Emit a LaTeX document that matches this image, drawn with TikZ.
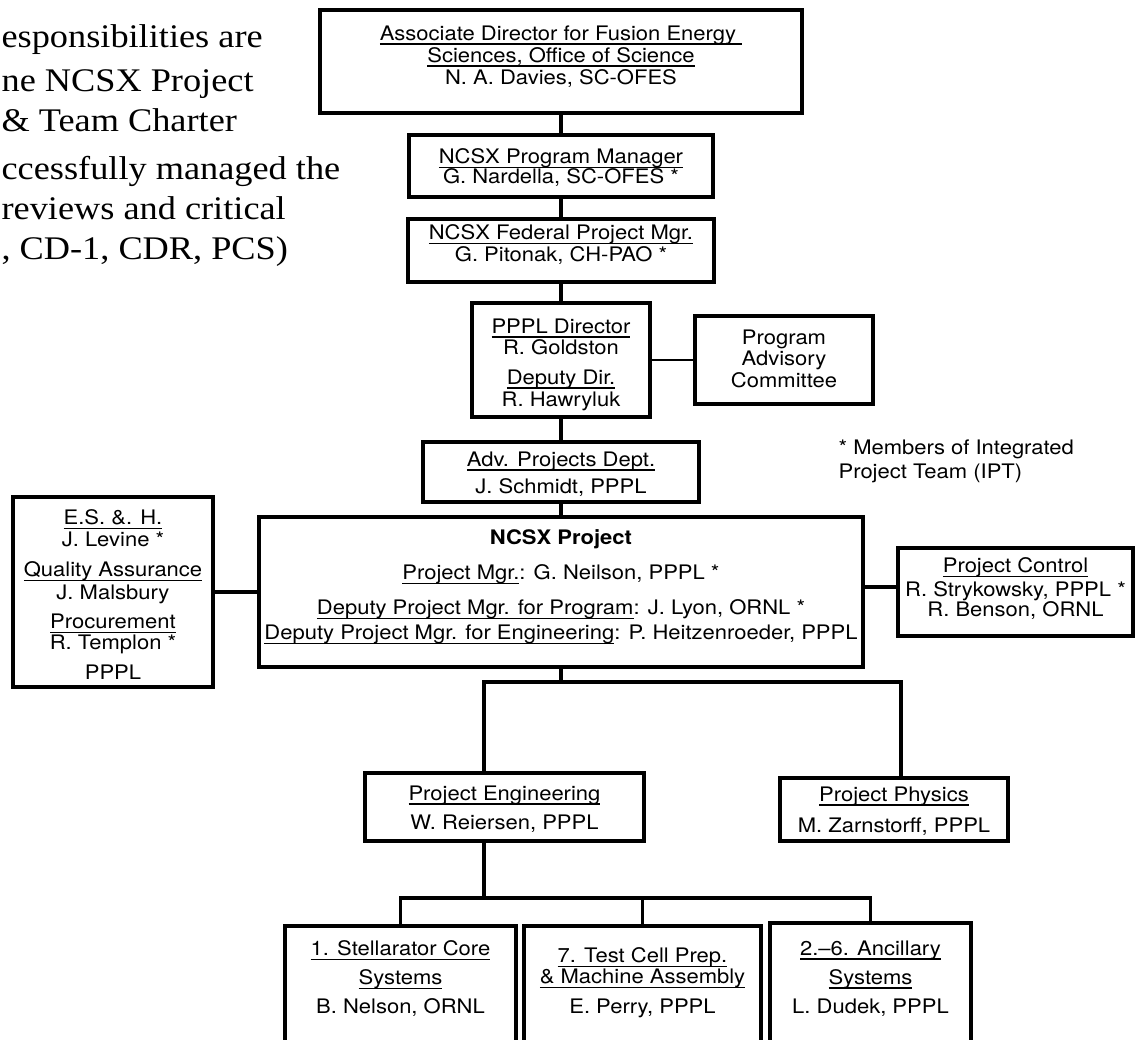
\documentclass[tikz,border=0pt]{standalone}
\usepackage{fontspec}
\setmainfont{TeX Gyre Heros}[FakeStretch=1.1]
\newfontfamily\slidefont{Liberation Serif}[FakeStretch=1.1]
\usetikzlibrary{positioning}
% underline at a fixed depth below the baseline
\newsavebox\ulbox
\newcommand{\uln}[1]{\sbox\ulbox{#1}\rlap{\rule[-4pt]{\wd\ulbox}{1.3pt}}\usebox\ulbox}

\begin{document}
\begin{tikzpicture}[x=1pt,y=-1pt,line width=3.2pt,
     font=\fontsize{20}{22}\selectfont,
     orgbox/.style 2 args={draw, rectangle, inner sep=0pt, minimum width=#1, minimum height=#2},
     orgtext/.style={anchor=north, inner sep=0pt, align=center}
   ]
\useasboundingbox (0,0) rectangle (1138,1039);
\clip (0,0) rectangle (1138,1039);

% slide text, cut off at the left edge
\node (slide) [anchor=north west, inner sep=0pt, align=left,
  font=\slidefont\fontsize{33}{40}\selectfont] at (0,22.5)
  {esponsibilities are\\[4pt] ne NCSX Project\\ \& Team Charter\\[8pt]
   ccessfully managed the\\ reviews and critical\\ , CD-1, CDR, PCS)};

% chain of command
\node (ofes) [orgbox={482}{103}] at (561,61.5) {};
\node (ofesT) [orgtext] at (561,24.4) {\uln{Associate Director for Fusion Energy\ }\\
  \uln{Sciences, Office of Science}\\ N. A. Davies, SC-OFES};
\node (pm) [orgbox={304}{62}] at (561,166) {};
\node (pmT) [orgtext] at (561,147.4) {\uln{NCSX Program Manager}\\[-2pt] G. Nardella, SC-OFES *};
\node (fed) [orgbox={306}{63}] at (561,250.5) {};
\node (fedT) [orgtext] at (561,223.4) {\uln{NCSX Federal Project Mgr.}\\ G. Pitonak, CH-PAO *};
\node (dir) [orgbox={178}{114}] at (561,360) {};
\node (dirT) [orgtext] at (561,317.4) {\uln{PPPL Director}\\[-1pt] R. Goldston\\[8pt]
  \uln{Deputy Dir.}\\ R. Hawryluk};
\node (pac) [orgbox={178}{88}] at (784,360) {};
\node (pacT) [orgtext] at (784,328.4) {Program\\[-1pt] Advisory\\ Committee};
\node (adv) [orgbox={276}{60}] at (561,472) {};
\node (advT) [orgtext] at (561,450.4) {\uln{Adv. Projects Dept.}\\[5pt] J. Schmidt, PPPL};
\node (ipt) [anchor=north west, inner sep=0pt, align=left] at (837,438.4)
  {* Members of Integrated\\[2pt] Project Team (IPT)};

% project level
\node (ncsx) [orgbox={604}{150}] at (561,592) {};
\node (ncsxT) [orgtext] at (561,528.4) {\textbf{NCSX Project}\\[13pt]
  \uln{Project Mgr.}: G. Neilson, PPPL *\\[13pt]
  \uln{Deputy Project Mgr. for Program}: J. Lyon, ORNL *\\[3pt]
  \uln{Deputy Project Mgr. for Engineering}: P. Heitzenroeder, PPPL};
\node (esh) [orgbox={200}{190}] at (113,592) {};
\node (eshT) [orgtext] at (113,508.4) {\uln{E.S. \&. H.}\\ J. Levine *\\[8pt]
  \uln{Quality Assurance}\\[1pt] J. Malsbury\\[7pt]
  \uln{Procurement}\\[-1pt] R. Templon *\\[8pt] PPPL};
\node (ctrl) [orgbox={235}{88}] at (1015.5,592) {};
\node (ctrlT) [orgtext] at (1015.5,556.4) {\uln{Project Control}\\[2pt]
  R. Strykowsky, PPPL *\\[-2pt] R. Benson, ORNL};

% engineering and physics
\node (eng) [orgbox={279}{68}] at (504.5,807) {};
\node (engT) [orgtext] at (504.5,784.4) {\uln{Project Engineering}\\[7pt] W. Reiersen, PPPL};
\node (phys) [orgbox={228}{63}] at (894,809.5) {};
\node (physT) [orgtext] at (894,785.4) {\uln{Project Physics}\\[9pt] M. Zarnstorff, PPPL};

% systems
\node (core) [orgbox={231}{134}] at (400.5,993) {};
\node (coreT) [orgtext] at (400.5,939.4) {\uln{1. Stellarator Core}\\[7pt]
  \uln{Systems}\\[7pt] B. Nelson, ORNL};
\node (cell) [orgbox={237}{134}] at (642.5,993) {};
\node (cellT) [orgtext] at (642.5,946.4) {\uln{7. Test Cell Prep.}\\[-1pt]
  \uln{\& Machine Assembly}\\[8pt] E. Perry, PPPL};
\node (anc) [orgbox={201}{137}] at (870.5,991.5) {};
\node (ancT) [orgtext] at (870.5,939.4) {\uln{2.\textendash6. Ancillary}\\[7pt]
  \uln{Systems}\\[7pt] L. Dudek, PPPL};

% connectors
\draw (ofes) -- (pm) -- (fed) -- (dir) -- (adv) -- (ncsx);
\draw [line width=1.5pt] (dir) -- (pac);
\draw (esh) -- (ncsx);
\draw ([yshift=5pt]ctrl.west) -- ([yshift=5pt]ctrl.west -| ncsx.east);
\coordinate (split) at (561,682);
\draw (ncsx) -- (split);
\draw ([xshift=-20.5pt]eng.north) |- (split) -| ([xshift=7pt]phys.north);
\coordinate (split2) at (484,898);
\draw ([xshift=-20.5pt]eng.south) -- (split2);
\draw (core.north) |- (split2) -| (anc.north);
\draw (cell) -- (cell |- split2);
\end{tikzpicture}
\end{document}
